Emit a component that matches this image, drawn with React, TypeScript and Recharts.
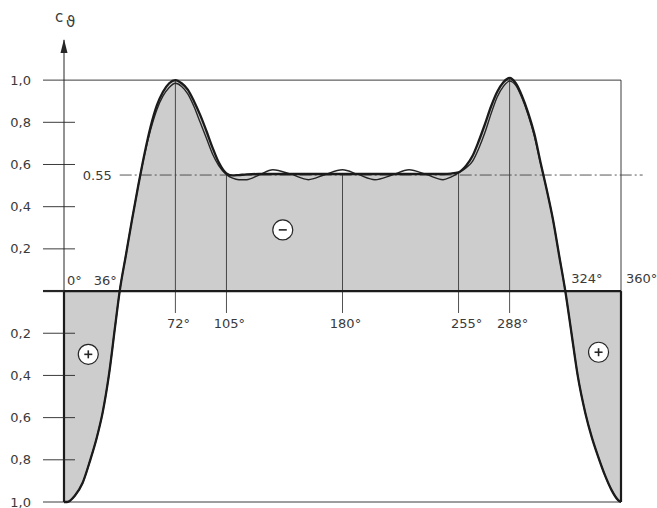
import React from "react";
import {
  ComposedChart,
  Area,
  Line,
  XAxis,
  YAxis,
  ReferenceLine,
  ReferenceDot,
} from "recharts";

// angle around the circumference, degrees
const angles = [
  0, 2, 7, 12, 17, 21, 25, 29, 33, 36,
  40, 44, 48, 52, 56, 60, 64, 68, 72, 76,
  80, 84, 88, 92, 96, 100, 105, 109, 113, 118,
  126, 135, 147, 158, 168, 180, 190, 201, 212, 223,
  234, 245, 250, 255, 260, 264, 268, 272, 276, 280,
  284, 288, 292, 296, 300, 304, 308, 312, 316, 320,
  324, 328, 332, 337, 341, 345, 350, 354, 358, 360,
];

// smooth (thick) curve
const smoothCurve = [
  -1.0, -1.0, -0.97, -0.91, -0.8, -0.7, -0.575, -0.4, -0.17, 0.0,
  0.17, 0.34, 0.5, 0.65, 0.78, 0.88, 0.945, 0.985, 1.0, 0.985,
  0.955, 0.9, 0.835, 0.76, 0.68, 0.61, 0.558, 0.548, 0.55, 0.553,
  0.555, 0.555, 0.555, 0.555, 0.555, 0.555, 0.555, 0.555, 0.555, 0.555,
  0.555, 0.555, 0.557, 0.563, 0.595, 0.64, 0.71, 0.79, 0.875, 0.945,
  0.99, 1.01, 0.985, 0.925, 0.845, 0.745, 0.61, 0.48, 0.34, 0.17,
  0.0, -0.2, -0.4, -0.58, -0.69, -0.78, -0.88, -0.945, -0.99, -1.0,
];

// wavy (thin) curve
const wavyCurve = [
  -1.0, -1.0, -0.97, -0.91, -0.8, -0.7, -0.575, -0.4, -0.17, 0.0,
  0.17, 0.34, 0.5, 0.645, 0.765, 0.86, 0.925, 0.965, 0.985, 0.97,
  0.935, 0.875, 0.8, 0.725, 0.65, 0.595, 0.552, 0.535, 0.528, 0.528,
  0.55, 0.575, 0.553, 0.528, 0.55, 0.575, 0.553, 0.528, 0.55, 0.575,
  0.553, 0.528, 0.54, 0.56, 0.585, 0.615, 0.675, 0.75, 0.84, 0.92,
  0.97, 0.995, 0.975, 0.915, 0.835, 0.735, 0.605, 0.48, 0.34, 0.17,
  0.0, -0.2, -0.4, -0.58, -0.69, -0.78, -0.88, -0.945, -0.99, -1.0,
];

const yTicks = [-1, -0.8, -0.6, -0.4, -0.2, 0, 0.2, 0.4, 0.6, 0.8, 1];
const degreeLabels = [0, 36, 72, 105, 180, 255, 288, 324, 360];
const markedAngles = [72, 105, 180, 255, 288];
const plateauLevel = 0.55;
const plateauLabel = "0.55";
const signMarks = [
  { a: 15.7, v: -0.3, sign: "+" },
  { a: 141.4, v: 0.29, sign: "-" },
  { a: 345.5, v: -0.29, sign: "+" },
];

const data = angles.map((a, i) => ({ a, s: smoothCurve[i], w: wavyCurve[i] }));
const valueAt = (a: number) => smoothCurve[angles.indexOf(a)];

const ink = "#262626";
const textInk = "#3a3a3a";
const font = "DejaVu Sans";

function YTick({ x, y, payload }: any) {
  const v = payload.value;
  const label = v === 0 ? "" : Math.abs(v).toFixed(1).replace(".", ",");
  return (
    <g>
      <line
        x1={x - 21}
        x2={v === 0 || Math.abs(v) === 1 ? x : x + 11}
        y1={y}
        y2={y}
        stroke={ink}
        strokeWidth={v === 0 ? 2.2 : 0.9}
      />
      <text
        x={x - 33}
        y={y}
        dy={4.5}
        textAnchor="end"
        fontFamily={font}
        fontSize={13}
        fill={textInk}
      >
        {label}
      </text>
    </g>
  );
}

function placeLabel(a: number) {
  if (a === 0) return { dx: 3, dy: -6, anchor: "start" };
  if (a === 36) return { dx: -3, dy: -6, anchor: "end" };
  if (a === 324) return { dx: 6, dy: -8, anchor: "start" };
  if (a === 360) return { dx: 5, dy: -8, anchor: "start" };
  if (a === 255) return { dx: 8, dy: 37, anchor: "middle" };
  return { dx: 3, dy: 37, anchor: "middle" };
}

export default function App() {
  return (
    <div style={{ position: "absolute", left: 0, top: 0, background: "#fff" }}>
      <ComposedChart
        width={657}
        height={508}
        data={data}
        margin={{ top: 78, right: 36, bottom: 6, left: 0 }}
      >
        <XAxis dataKey="a" type="number" domain={[0, 360]} hide />
        <YAxis
          type="number"
          domain={[-1, 1]}
          ticks={yTicks}
          width={64}
          axisLine={false}
          tickLine={false}
          tickSize={0}
          tickMargin={0}
          tick={<YTick />}
          interval={0}
        />

        <Area
          dataKey="s"
          type="monotone"
          baseValue={0}
          fill="#cdcdcd"
          fillOpacity={1}
          stroke="none"
          isAnimationActive={false}
        />

        {/* frame */}
        <ReferenceLine y={1} stroke={ink} strokeWidth={0.9} />
        <ReferenceLine y={-1} stroke={ink} strokeWidth={0.9} />
        <ReferenceLine
          segment={[{ x: 360, y: 0 }, { x: 360, y: 1 }]}
          stroke={ink}
          strokeWidth={0.9}
        />
        <ReferenceLine
          segment={[{ x: 0, y: 0 }, { x: 0, y: 1.19 }]}
          stroke={ink}
          strokeWidth={1}
          ifOverflow="visible"
        />

        {/* marked angles */}
        {markedAngles.map((a) => (
          <ReferenceLine
            key={a}
            segment={[{ x: a, y: valueAt(a) }, { x: a, y: -0.104 }]}
            stroke={ink}
            strokeWidth={0.8}
            ifOverflow="visible"
          />
        ))}

        {/* plateau level */}
        <ReferenceLine
          segment={[{ x: 36, y: plateauLevel }, { x: 374, y: plateauLevel }]}
          stroke="#444"
          strokeWidth={0.9}
          strokeDasharray="12 3 2 3"
          ifOverflow="visible"
        />
        <ReferenceDot
          x={36}
          y={plateauLevel}
          r={0}
          ifOverflow="visible"
          shape={(p: any) => (
            <text
              x={p.cx - 8}
              y={p.cy}
              dy={4.5}
              textAnchor="end"
              fontFamily={font}
              fontSize={13}
              fill={textInk}
            >
              {plateauLabel}
            </text>
          )}
        />

        <Line
          dataKey="w"
          type="monotone"
          stroke={ink}
          strokeWidth={1.4}
          dot={false}
          isAnimationActive={false}
        />
        <Line
          dataKey="s"
          type="monotone"
          stroke="#1b1b1b"
          strokeWidth={2.3}
          dot={false}
          isAnimationActive={false}
        />

        {/* thick outline of the pressure regions */}
        <ReferenceLine y={0} stroke="#1b1b1b" strokeWidth={2.2} />
        <ReferenceLine
          segment={[{ x: 0, y: -1 }, { x: 0, y: 0 }]}
          stroke="#1b1b1b"
          strokeWidth={2.2}
        />
        <ReferenceLine
          segment={[{ x: 360, y: -1 }, { x: 360, y: 0 }]}
          stroke="#1b1b1b"
          strokeWidth={2.2}
        />

        {/* axis arrow and title */}
        <ReferenceDot
          x={0}
          y={1.19}
          r={0}
          ifOverflow="visible"
          shape={(p: any) => (
            <g>
              <polygon
                points={`${p.cx},${p.cy - 1} ${p.cx - 3.5},${p.cy + 13} ${p.cx + 3.5},${p.cy + 13}`}
                fill={ink}
              />
              <text x={p.cx - 9} y={p.cy - 18} fontFamily={font} fontSize={15} fill={textInk}>
                c
              </text>
              <text x={p.cx + 2} y={p.cy - 13} fontFamily={font} fontSize={15} fill={textInk}>
                ϑ
              </text>
            </g>
          )}
        />

        {/* degree labels */}
        {degreeLabels.map((a) => {
          const pl = placeLabel(a);
          return (
            <ReferenceDot
              key={`d${a}`}
              x={a}
              y={0}
              r={0}
              ifOverflow="visible"
              shape={(p: any) => (
                <text
                  x={p.cx + pl.dx}
                  y={p.cy + pl.dy}
                  textAnchor={pl.anchor}
                  fontFamily={font}
                  fontSize={13}
                  fill={textInk}
                >
                  {`${a}°`}
                </text>
              )}
            />
          );
        })}

        {/* sign circles */}
        {signMarks.map((m) => (
          <ReferenceDot
            key={`s${m.a}`}
            x={m.a}
            y={m.v}
            r={10}
            ifOverflow="visible"
            shape={(p: any) => (
              <g>
                <circle cx={p.cx} cy={p.cy} r={10} fill="#fff" stroke={ink} strokeWidth={1.2} />
                <line x1={p.cx - 4} x2={p.cx + 4} y1={p.cy} y2={p.cy} stroke={ink} strokeWidth={1.6} />
                {m.sign === "+" && (
                  <line x1={p.cx} x2={p.cx} y1={p.cy - 4} y2={p.cy + 4} stroke={ink} strokeWidth={1.6} />
                )}
              </g>
            )}
          />
        ))}
      </ComposedChart>
    </div>
  );
}
